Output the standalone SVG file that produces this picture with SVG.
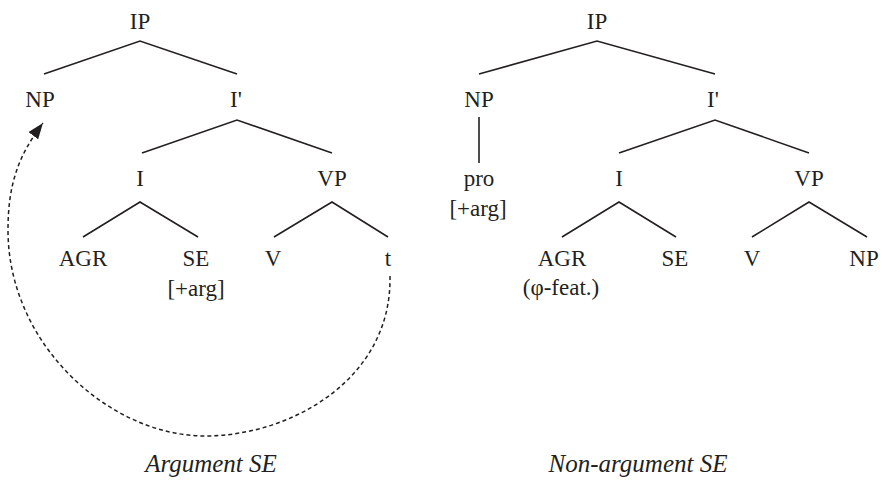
<svg xmlns="http://www.w3.org/2000/svg" width="885" height="481" viewBox="0 0 885 481">
<style>
.t{font-family:"Liberation Serif","Times New Roman",serif;font-size:23px;fill:#231f20;text-anchor:middle}
.c{font-family:"Liberation Serif","Times New Roman",serif;font-size:25px;font-style:italic;fill:#231f20;text-anchor:middle}
.e{stroke:#231f20;stroke-width:1.6;fill:none;stroke-linecap:butt}
.d{stroke:#231f20;stroke-width:1.5;fill:none;stroke-dasharray:4 3}
</style>
<defs>
<marker id="ah" markerWidth="18" markerHeight="12" refX="16" refY="6" orient="auto" markerUnits="userSpaceOnUse">
<path d="M0,0 L16,6 L0,12 Z" fill="#231f20"/>
</marker>
</defs>
<rect width="885" height="481" fill="#fff"/>
<g id="connectors">
<path class="e" d="M44,74 L140,41 L237,74"/>
<path class="e" d="M142,153 L237,120 L332,153"/>
<path class="e" d="M83,237 L140,202 L198,237"/>
<path class="e" d="M274,237 L332,202 L388,237"/>
<path class="e" d="M479,74 L597,41 L715,74"/>
<path class="e" d="M479,117 L479,163"/>
<path class="e" d="M619,153 L715,120 L809,153"/>
<path class="e" d="M562,237 L619,202 L676,237"/>
<path class="e" d="M752,237 L809,202 L867,237"/>
<path id="movement" class="d" marker-end="url(#ah)" d="M390,276 C392,380 290,436 205,436 C110,436 8,345 8,230 C8,185 18,156 43,123"/>
</g>
<g id="ip1"><text class="t" x="140" y="29">IP</text></g>
<g id="np1"><text class="t" x="40" y="107">NP</text></g>
<g id="ibar1"><text class="t" x="236" y="107">I'</text></g>
<g id="i1"><text class="t" x="140" y="186">I</text></g>
<g id="vp1"><text class="t" x="332" y="186">VP</text></g>
<g id="agr1"><text class="t" x="83" y="266">AGR</text></g>
<g id="se1"><text class="t" x="196" y="266">SE</text><text class="t" x="196" y="296">[+arg]</text></g>
<g id="v1"><text class="t" x="273" y="266">V</text></g>
<g id="t1"><text class="t" x="388" y="266">t</text></g>
<g id="cap1"><text class="c" x="211" y="472">Argument SE</text></g>
<g id="ip2"><text class="t" x="597" y="29">IP</text></g>
<g id="np2"><text class="t" x="479" y="107">NP</text></g>
<g id="pro2"><text class="t" x="479" y="186">pro</text><text class="t" x="478" y="216">[+arg]</text></g>
<g id="ibar2"><text class="t" x="713" y="107">I'</text></g>
<g id="i2"><text class="t" x="619" y="186">I</text></g>
<g id="vp2"><text class="t" x="809" y="186">VP</text></g>
<g id="agr2"><text class="t" x="562" y="266">AGR</text><text class="t" x="561" y="295">(φ-feat.)</text></g>
<g id="se2"><text class="t" x="675" y="266">SE</text></g>
<g id="v2"><text class="t" x="752" y="266">V</text></g>
<g id="np2b"><text class="t" x="864" y="266">NP</text></g>
<g id="cap2"><text class="c" x="638" y="472">Non-argument SE</text></g>
</svg>
